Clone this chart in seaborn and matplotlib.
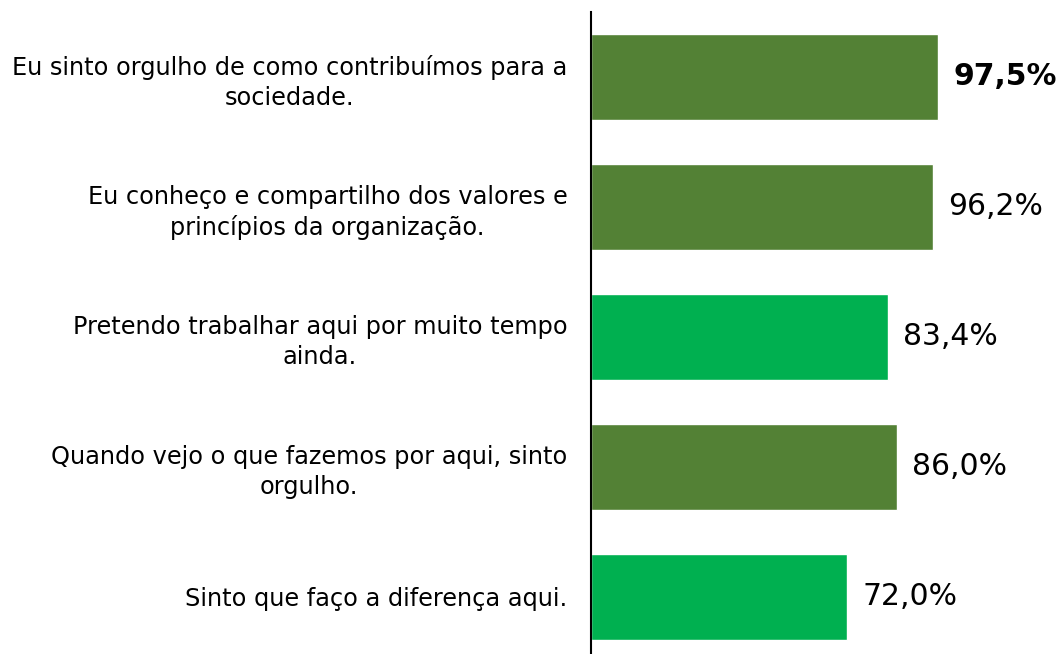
import matplotlib
matplotlib.use("Agg")
import matplotlib.pyplot as plt
import seaborn as sns
import pandas as pd

# dados
categorias = [
    "Eu sinto orgulho de como contribuímos para a\nsociedade.",
    "Eu conheço e compartilho dos valores e\nprincípios da organização.",
    "Pretendo trabalhar aqui por muito tempo\nainda.",
    "Quando vejo o que fazemos por aqui, sinto\norgulho.",
    "Sinto que faço a diferença aqui.",
]
valores = [97.5, 96.2, 83.4, 86.0, 72.0]
cores = ["#538135", "#538135", "#00B050", "#538135", "#00B050"]

df = pd.DataFrame({"Categoria": categorias, "Valor": valores})

sns.set_style("white")
plt.rcParams["font.family"] = ["DejaVu Sans"]

fig = plt.figure(figsize=(10.63, 6.54), dpi=100)
ax = fig.add_axes([591 / 1063, 0, 472 / 1063, 642 / 654])

sns.barplot(data=df, x="Valor", y="Categoria", hue="Categoria",
            palette=cores, legend=False, width=0.66, orient="h",
            saturation=1, ax=ax)

ax.set_xlim(0, 472 / 3.557)
ax.set_ylim(4.44, -0.5)
ax.set_xlabel("")
ax.set_ylabel("")
ax.set_xticks([])
for s in ["top", "right", "bottom"]:
    ax.spines[s].set_visible(False)
ax.spines["left"].set_color("black")
ax.spines["left"].set_linewidth(1.5)

ax.tick_params(axis="y", length=0, pad=17)
for lbl in ax.get_yticklabels():
    lbl.set_fontsize(17.3)
    lbl.set_multialignment("center")
    lbl.set_linespacing(1.3)
    lbl.set_ha("right")
    lbl.set_color("black")

for i, v in enumerate(valores):
    txt = f"{v:.1f}%".replace(".", ",")
    ax.annotate(txt, xy=(v, i), xytext=(11, 0), textcoords="offset points",
                va="center", ha="left", fontsize=21.5,
                fontweight="bold" if i == 0 else "normal", color="black")

fig.savefig("out.png", dpi=100)
